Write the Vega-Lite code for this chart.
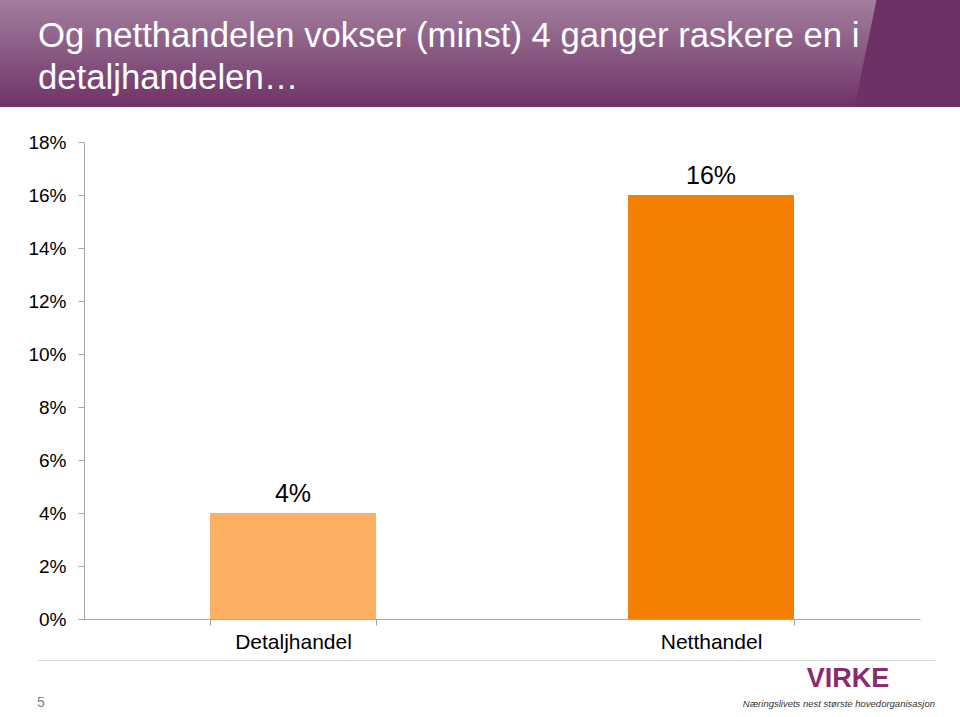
{
  "$schema": "https://vega.github.io/schema/vega-lite/v6.json",
  "padding": 0,
  "background": "white",
  "config": {"view": {"stroke": null}, "font": "Liberation Sans"},
  "columns": 1,
  "spacing": 8,
  "concat": [
    {
      "width": 960,
      "height": 107,
      "data": {"values": [{"felt": "topp"}]},
      "title": {
        "text": ["Og netthandelen vokser (minst) 4 ganger raskere en i", "detaljhandelen…"],
        "anchor": "start",
        "frame": "group",
        "orient": "top",
        "offset": -97,
        "dx": 38,
        "baseline": "top",
        "fontSize": 34.7,
        "fontWeight": "normal",
        "color": "#ffffff",
        "lineHeight": 42,
        "font": "Liberation Sans"
      },
      "layer": [
        {
          "mark": {
            "type": "rect",
            "color": {
              "gradient": "linear",
              "x1": 0, "y1": 0, "x2": 0, "y2": 1,
              "stops": [
                {"offset": 0, "color": "#a27e9d"},
                {"offset": 1, "color": "#6f3367"}
              ]
            }
          },
          "encoding": {}
        },
        {
          "mark": {
            "type": "rect",
            "color": {
              "gradient": "linear",
              "x1": 0, "y1": 0, "x2": 1, "y2": 0.0229,
              "stops": [
                {"offset": 0, "color": "rgba(109,49,101,0)"},
                {"offset": 0.912, "color": "rgba(109,49,101,0)"},
                {"offset": 0.913, "color": "#6d3165"},
                {"offset": 1, "color": "#6d3165"}
              ]
            }
          },
          "encoding": {}
        }
      ]
    },
    {
      "width": 920,
      "height": 477,
      "title": {"text": " ", "fontSize": 1, "offset": 17},
      "data": {
        "values": [
          {"sektor": "Detaljhandel", "vekst": 0.04},
          {"sektor": "Netthandel", "vekst": 0.16}
        ]
      },
      "encoding": {
        "x": {
          "field": "sektor",
          "type": "nominal",
          "sort": null,
          "title": null,
          "scale": {"paddingInner": 0.603, "paddingOuter": 0.3015, "rangeMin": 84},
          "axis": {
            "labelAngle": 0,
            "tickBand": "extent",
            "tickSize": 6,
            "tickColor": "#a6a6a6",
            "domainColor": "#a6a6a6",
            "labelFontSize": 21,
            "labelColor": "#000000",
            "labelPadding": 6,
            "labelFont": "Liberation Sans"
          }
        },
        "y": {
          "field": "vekst",
          "type": "quantitative",
          "title": null,
          "scale": {"domain": [0, 0.18]},
          "axis": {
            "values": [0, 0.02, 0.04, 0.06, 0.08, 0.1, 0.12, 0.14, 0.16, 0.18],
            "format": ".0%",
            "grid": false,
            "offset": -84,
            "tickSize": 6,
            "tickColor": "#a6a6a6",
            "domainColor": "#a6a6a6",
            "labelFontSize": 19,
            "labelColor": "#000000",
            "labelPadding": 12,
            "labelFont": "Liberation Sans"
          }
        }
      },
      "layer": [
        {
          "mark": {"type": "bar"},
          "encoding": {
            "color": {
              "field": "sektor",
              "type": "nominal",
              "scale": {"domain": ["Detaljhandel", "Netthandel"], "range": ["#fdb062", "#f47f00"]},
              "legend": null
            }
          }
        },
        {
          "mark": {"type": "text", "baseline": "alphabetic", "dy": -11, "fontSize": 25, "color": "#000000"},
          "encoding": {"text": {"field": "vekst", "type": "quantitative", "format": ".0%"}}
        }
      ]
    },
    {
      "width": 935,
      "height": 58,
      "encoding": {
        "x": {
          "field": "side",
          "type": "nominal",
          "title": null,
          "scale": {"type": "point", "domain": ["venstre", "høyre"], "padding": 0, "rangeMin": 37},
          "axis": {"orient": "top", "labels": false, "ticks": false, "domainColor": "#d9d9d9"}
        }
      },
      "layer": [
        {
          "data": {"values": [{"side": "venstre", "tekst": "5"}]},
          "mark": {"type": "text", "align": "left", "baseline": "middle", "dy": 14, "fontSize": 14, "color": "#7f7f7f"},
          "encoding": {"text": {"field": "tekst"}}
        },
        {
          "data": {"values": [{"side": "høyre", "tekst": "VIRKE"}]},
          "mark": {"type": "text", "align": "center", "baseline": "middle", "dx": -87, "dy": -10, "fontSize": 27, "fontWeight": "bold", "font": "Liberation Sans Narrow, Liberation Sans", "color": "#8a2b6e"},
          "encoding": {"text": {"field": "tekst"}}
        },
        {
          "data": {"values": [{"side": "høyre", "tekst": "Næringslivets nest største hovedorganisasjon"}]},
          "mark": {"type": "text", "align": "right", "baseline": "middle", "dy": 15, "fontSize": 9.5, "fontStyle": "italic", "color": "#333333"},
          "encoding": {"text": {"field": "tekst"}}
        }
      ]
    }
  ]
}
